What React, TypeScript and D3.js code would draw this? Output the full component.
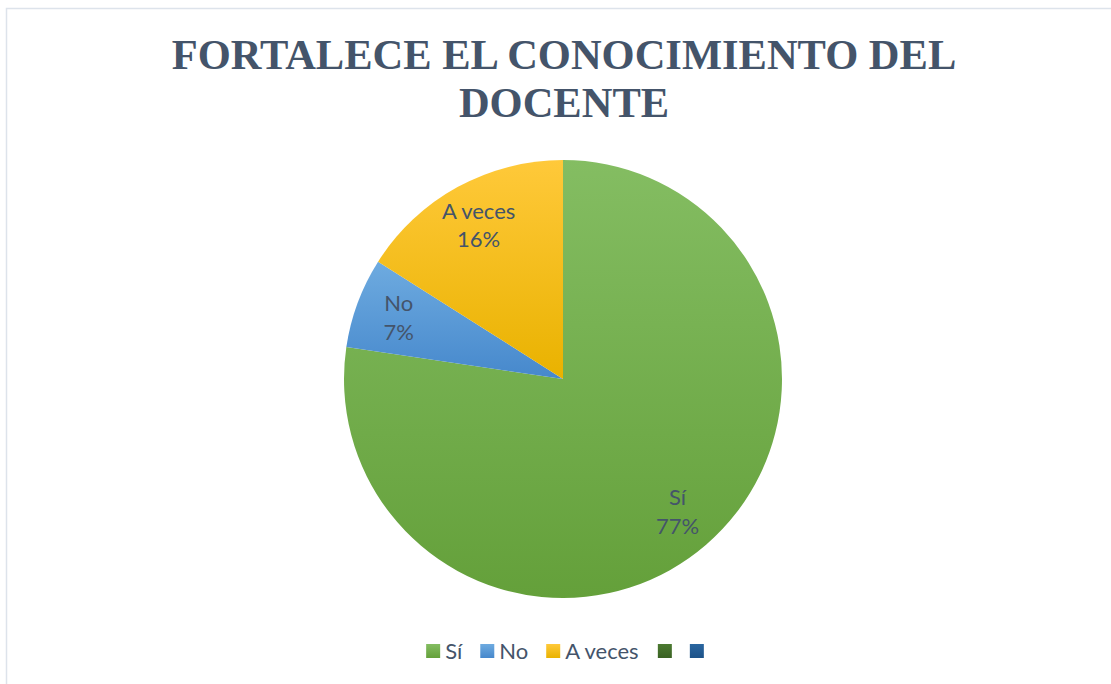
import React, { useEffect } from "react";
import { pie, arc } from "d3";

// chart data
const categories = ["Sí", "No", "A veces", "", ""];
const counts = [58, 5, 12, 0, 0];
const titleLines = ["FORTALECE EL CONOCIMIENTO DEL", "DOCENTE"];

// slice colours (light at top, dark at bottom of each slice)
const topColors = ["#84bd62", "#6eabe0", "#ffc93a", "#4c7a31", "#2a66a0"];
const bottomColors = ["#64a03a", "#4688cc", "#e9b200", "#3a6223", "#1d5288"];

const W = 1111;
const H = 684;
const cx = 563;
const cy = 379;
const radius = 219;
const labelFont = "22px Lato";
const textColor = "#44546a";

function measure(text: string, font: string): number {
  const ctx = document.createElement("canvas").getContext("2d");
  if (!ctx) return text.length * 10;
  ctx.font = font;
  return ctx.measureText(text).width;
}

export default function App() {
  useEffect(() => {
    document.body.style.margin = "0";
  }, []);

  const total = counts.reduce((a, b) => a + b, 0);

  const slices = pie<number>().sort(null).value(d => d)(counts);
  const arcGen = arc<any>().innerRadius(0).outerRadius(radius);
  const labelArc = arc<any>().innerRadius(radius * 0.8).outerRadius(radius * 0.8);

  // legend layout
  const sw = 14;
  const gap = 5;
  const itemGap = 18;
  const widths = categories.map(c => sw + (c ? gap + measure(c, labelFont) : 0));
  const legendTotal = widths.reduce((a, b) => a + b, 0) + itemGap * (widths.length - 1);
  let lx = cx - legendTotal / 2 + 2;
  const legendX = widths.map(w => {
    const x = lx;
    lx += w + itemGap;
    return x;
  });
  const legendY = 651;

  return (
    <svg width={W} height={H} style={{ display: "block", background: "#fff" }}>
      <defs>
        {categories.map((c, i) => (
          <linearGradient key={i} id={`g${i}`} x1="0" y1="0" x2="0" y2="1">
            <stop offset="0" stopColor={topColors[i]} />
            <stop offset="1" stopColor={bottomColors[i]} />
          </linearGradient>
        ))}
      </defs>
      <rect x={6.5} y={8.5} width={W + 10} height={H + 10} fill="#fff" stroke="#dde3eb" strokeWidth={1.5} />

      <g fill={textColor} fontFamily="'Liberation Serif', 'Times New Roman', serif" fontWeight="bold" fontSize={42.5} textAnchor="middle">
        {titleLines.map((t, i) => (
          <text key={i} x={cx + 1} y={69 + i * 48}>{t}</text>
        ))}
      </g>

      <g transform={`translate(${cx},${cy})`}>
        {slices.map((s, i) =>
          s.value > 0 ? <path key={i} d={arcGen(s) || ""} fill={`url(#g${i})`} /> : null
        )}
        {slices.map((s, i) => {
          if (!s.value) return null;
          const [x, y] = labelArc.centroid(s);
          const pct = Math.round((s.value / total) * 100) + "%";
          return (
            <text key={i} x={x} y={y} textAnchor="middle" fill={textColor} style={{ font: labelFont }}>
              <tspan x={x} dy="-0.3em">{categories[i]}</tspan>
              <tspan x={x} dy="1.3em">{pct}</tspan>
            </text>
          );
        })}
      </g>

      <g>
        {categories.map((c, i) => (
          <g key={i} transform={`translate(${legendX[i]},${legendY})`}>
            <rect x={0} y={-sw / 2} width={sw} height={sw} fill={`url(#g${i})`} />
            {c && (
              <text x={sw + gap} y={0} dy="0.35em" fill={textColor} style={{ font: labelFont }}>{c}</text>
            )}
          </g>
        ))}
      </g>
    </svg>
  );
}
